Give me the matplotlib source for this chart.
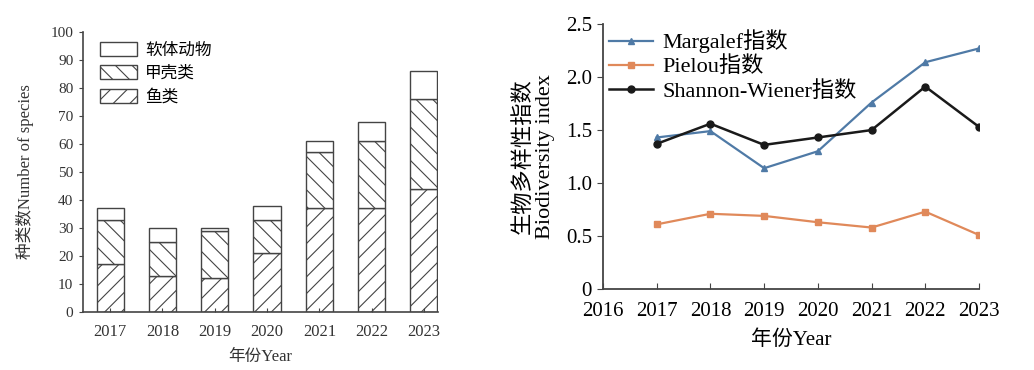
import matplotlib
matplotlib.use("Agg")
import matplotlib.pyplot as plt
import numpy as np

plt.rcParams['font.family'] = ['Liberation Serif', 'Noto Sans CJK SC']
plt.rcParams['hatch.linewidth'] = 0.8
plt.rcParams['hatch.color'] = '#555555'

years = ['2017', '2018', '2019', '2020', '2021', '2022', '2023']
fish = [17, 13, 12, 21, 37, 37, 44]
crustacea = [16, 12, 17, 12, 20, 24, 32]
mollusca = [4, 5, 1, 5, 4, 7, 10]

line_years = [2017, 2018, 2019, 2020, 2021, 2022, 2023]
margalef = [1.43, 1.49, 1.14, 1.30, 1.76, 2.14, 2.27]
pielou = [0.61, 0.71, 0.69, 0.63, 0.58, 0.73, 0.51]
shannon = [1.37, 1.56, 1.36, 1.43, 1.50, 1.91, 1.53]

fig = plt.figure(figsize=(10.34, 3.70), dpi=100)
edge = '#444444'

# stacked bars: species count per group
ax1 = fig.add_axes([0.0803, 0.1568, 0.3433, 0.7567])
x = np.arange(len(years))
w = 0.52
ax1.bar(x, fish, w, color='white', edgecolor=edge, hatch='//', lw=1.0, label='鱼类')
ax1.bar(x, crustacea, w, bottom=fish, color='white', edgecolor=edge, hatch='\\\\',
        lw=1.0, label='甲壳类')
ax1.bar(x, mollusca, w, bottom=np.add(fish, crustacea), color='white', edgecolor=edge,
        lw=1.0, label='软体动物')
ax1.set_xlim(-0.52, 6.27)
ax1.set_ylim(0, 100)
ax1.set_yticks(range(0, 101, 10))
ax1.set_xticks(x)
ax1.set_xticklabels(years)
ax1.tick_params(axis='x', direction='in', length=3, labelsize=12, pad=9, color=edge,
                labelcolor='#333333')
ax1.tick_params(axis='y', direction='out', length=3, labelsize=11, pad=4, color=edge,
                labelcolor='#333333')
for s in ['top', 'right']:
    ax1.spines[s].set_visible(False)
for s in ['left', 'bottom']:
    ax1.spines[s].set_color(edge)
    ax1.spines[s].set_linewidth(1.2)
ax1.set_ylabel('种类数Number of species', fontsize=12, labelpad=12, color='#333333')
ax1.set_xlabel('年份Year', fontsize=12, labelpad=6, color='#333333')
h, l = ax1.get_legend_handles_labels()
ax1.legend(h[::-1], l[::-1], loc='upper left', bbox_to_anchor=(0.02, 1.0), frameon=False,
           fontsize=12, handlelength=2.2, handleheight=0.9, labelspacing=0.4,
           handletextpad=0.5, borderaxespad=0.2)

# diversity indices
ax2 = fig.add_axes([0.5832, 0.2189, 0.3636, 0.7160])
ax2.plot(line_years, margalef, color='#4f7aa6', marker='^', ms=4, lw=1.6,
         label='Margalef指数')
ax2.plot(line_years, pielou, color='#e0895a', marker='s', ms=4, lw=1.6,
         label='Pielou指数')
ax2.plot(line_years, shannon, color='#1a1a1a', marker='o', ms=5, lw=1.8,
         label='Shannon-Wiener指数')
ax2.set_xlim(2016, 2023)
ax2.set_ylim(0, 2.5)
ax2.set_xticks(range(2016, 2024))
ax2.set_yticks([0, 0.5, 1.0, 1.5, 2.0, 2.5])
ax2.set_yticklabels(['0', '0.5', '1.0', '1.5', '2.0', '2.5'])
ax2.tick_params(axis='x', direction='in', length=4, labelsize=15, pad=9, color=edge)
ax2.tick_params(axis='y', direction='out', length=4, labelsize=15, pad=4, color=edge)
for s in ['top', 'right']:
    ax2.spines[s].set_visible(False)
for s in ['left', 'bottom']:
    ax2.spines[s].set_color(edge)
    ax2.spines[s].set_linewidth(1.3)
ax2.set_ylabel('生物多样性指数\nBiodiversity index', fontsize=16, labelpad=8,
               linespacing=1.15)
ax2.set_xlabel('年份Year', fontsize=15, labelpad=7)
ax2.legend(loc='upper left', bbox_to_anchor=(-0.02, 1.03), frameon=False, fontsize=16,
           handlelength=2.0, labelspacing=0.15, handletextpad=0.4, borderaxespad=0.2)

fig.savefig('out.png', dpi=100)
